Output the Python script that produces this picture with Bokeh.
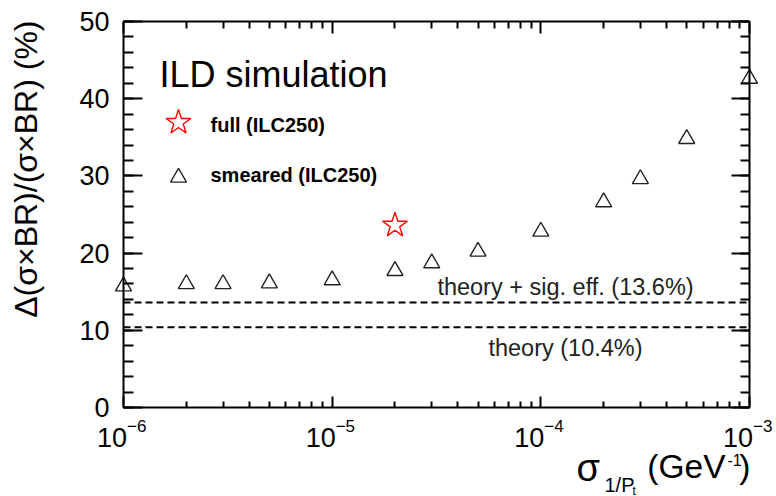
import math
from bokeh.plotting import figure
from bokeh.models import (Range1d, LinearAxis, LogAxis, FixedTicker, SingleIntervalTicker,
                          Label, CustomJSTickFormatter, LinearScale)
from bokeh.embed import file_html
from bokeh.resources import INLINE

# ---------------- data ----------------
sigma_inv_pt = [1e-6, 2e-6, 3e-6, 5e-6, 1e-5, 2e-5, 3e-5, 5e-5, 1e-4, 2e-4, 3e-4, 5e-4, 1e-3]
smeared_pct = [15.7, 16.0, 16.0, 16.1, 16.5, 17.7, 18.7, 20.2, 22.8, 26.6, 29.6, 34.8, 42.6]
full_x = [2e-5]
full_pct = [23.6]
theory_pct = 10.4
theory_sig_pct = 13.6
x_major = [1e-6, 1e-5, 1e-4, 1e-3]
x_exponents = ["\u22126", "\u22125", "\u22124", "\u22123"]
y_lo, y_hi = 0, 50
y_interval = 10

# ---------------- layout ----------------
FONT = "Liberation Sans"
W, H = 776, 496
LEFT, RIGHT, TOP, BOTTOM = 123, 27, 21, 89       # margins of the plot box
BOX_W, BOX_H = W - LEFT - RIGHT, H - TOP - BOTTOM

lx0, lx1 = math.log10(x_major[0]), math.log10(x_major[-1])
dec_px = BOX_W / (lx1 - lx0)
y_px = BOX_H / (y_hi - y_lo)
x_range = Range1d(10 ** (lx0 - LEFT / dec_px), 10 ** (lx1 + RIGHT / dec_px))
y_range = Range1d(y_lo - BOTTOM / y_px, y_hi + TOP / y_px)

x_minor = [m * 10.0 ** e for e in range(int(lx0), int(lx1)) for m in range(2, 10)]

p = figure(width=W, height=H, x_axis_type="log", x_range=x_range, y_range=y_range,
           output_backend="svg", toolbar_location=None, min_border=0)
# pixel helper ranges: origin at the box's lower-left corner
p.extra_x_ranges = {"px": Range1d(-LEFT, W - LEFT)}
p.extra_y_ranges = {"py": Range1d(-BOTTOM, H - BOTTOM)}
p.extra_x_scales = {"px": LinearScale()}
p.extra_y_scales = {"py": LinearScale()}
p.grid.visible = False
p.outline_line_color = None
p.background_fill_color = "white"
p.border_fill_color = "white"
p.title.visible = False

def empty():
    return CustomJSTickFormatter(code="return ''")

def style_axis(ax, maj, mnr):
    ax.major_tick_in = maj
    ax.major_tick_out = 0
    ax.minor_tick_in = mnr
    ax.minor_tick_out = 0
    ax.axis_line_width = 2
    ax.axis_line_color = "black"
    ax.major_tick_line_width = 2
    ax.minor_tick_line_width = 2
    ax.major_tick_line_color = "black"
    ax.minor_tick_line_color = "black"

ax = p.xaxis[0]
ax.ticker = FixedTicker(ticks=x_major, minor_ticks=x_minor)
ax.formatter = empty()
ax.major_label_text_font_size = "1px"
ax.fixed_location = y_lo
ax.bounds = (x_major[0], x_major[-1])
style_axis(ax, 11, 6)

ay = p.yaxis[0]
ay.ticker = SingleIntervalTicker(interval=y_interval, num_minor_ticks=5)
ay.major_label_text_font = FONT
ay.major_label_text_font_size = "27px"
ay.major_label_text_color = "black"
ay.major_label_standoff = 14
ay.fixed_location = x_major[0]
ay.bounds = (y_lo, y_hi)
style_axis(ay, 19, 10)

ar = LinearAxis(ticker=SingleIntervalTicker(interval=y_interval, num_minor_ticks=5),
                formatter=empty(), major_label_text_font_size="1px",
                fixed_location=x_major[-1], bounds=(y_lo, y_hi))
style_axis(ar, 18, 9)
p.add_layout(ar, "right")

at = LogAxis(ticker=FixedTicker(ticks=x_major, minor_ticks=x_minor),
             formatter=empty(), major_label_text_font_size="1px",
             fixed_location=y_hi, bounds=(x_major[0], x_major[-1]))
style_axis(at, 12, 7)
p.add_layout(at, "above")

# reference lines (limited to the box)
for loc in (theory_sig_pct, theory_pct):
    p.line(x=[x_major[0], x_major[-1]], y=[loc, loc], line_color="black",
           line_width=2, line_dash="7 4")

# data markers
p.scatter(sigma_inv_pt, smeared_pct, marker="triangle", size=16, fill_color=None,
          line_color="#222222", line_width=1.4)
p.scatter(full_x, full_pct, marker="star", size=26, fill_color=None,
          line_color="#ff0000", line_width=1.4)

# legend (box-pixel coordinates)
p.scatter([55], [285], x_range_name="px", y_range_name="py", marker="star", size=26,
          fill_color=None, line_color="#ff0000", line_width=1.4)
p.scatter([55], [230], x_range_name="px", y_range_name="py", marker="triangle", size=16,
          fill_color=None, line_color="#222222", line_width=1.4)

def lab(text, cx, cy, size, align="left", bold=False, color="black", angle=0.0):
    """cx, cy: canvas pixel position (from top-left) of the text's anchor / vertical middle."""
    p.add_layout(Label(x=cx - LEFT, y=(H - BOTTOM) - cy, x_range_name="px", y_range_name="py",
                       text=text, text_font=FONT, text_font_size=f"{size}px",
                       text_align=align, text_baseline="middle", text_color=color,
                       angle=angle, text_font_style="bold" if bold else "normal"))

lab("ILD simulation", 159, 74, 36)
lab("full (ILC250)", 210, 124, 20, bold=True)
lab("smeared (ILC250)", 210, 174, 20, bold=True)

lab("theory + sig. eff. (13.6%)", 565, 286, 23.5, align="center", color="#222222")
lab("theory (10.4%)", 565, 347, 23.5, align="center", color="#222222")

# x tick labels 10^n
for t, e in zip(x_major, x_exponents):
    sx = LEFT + (math.log10(t) - lx0) * dec_px
    lab("10", sx + 3.5, 437, 27, align="right")
    lab(e, sx + 3.5, 425, 17, align="left")

# y axis title
lab("\u0394(\u03c3\u00d7BR)/(\u03c3\u00d7BR) (%)", 25, 20, 32, align="right",
    angle=math.pi / 2)

# x axis title
lab("\u03c3", 576, 467, 38)
lab("1/P", 604, 484, 20)
lab("t", 632, 490, 12)
lab("(GeV", 725, 466, 33.5, align="right")
lab("-1", 727, 459, 16)
lab(")", 750, 466, 33.5, align="right")

open("out.html", "w").write(file_html(p, INLINE))
